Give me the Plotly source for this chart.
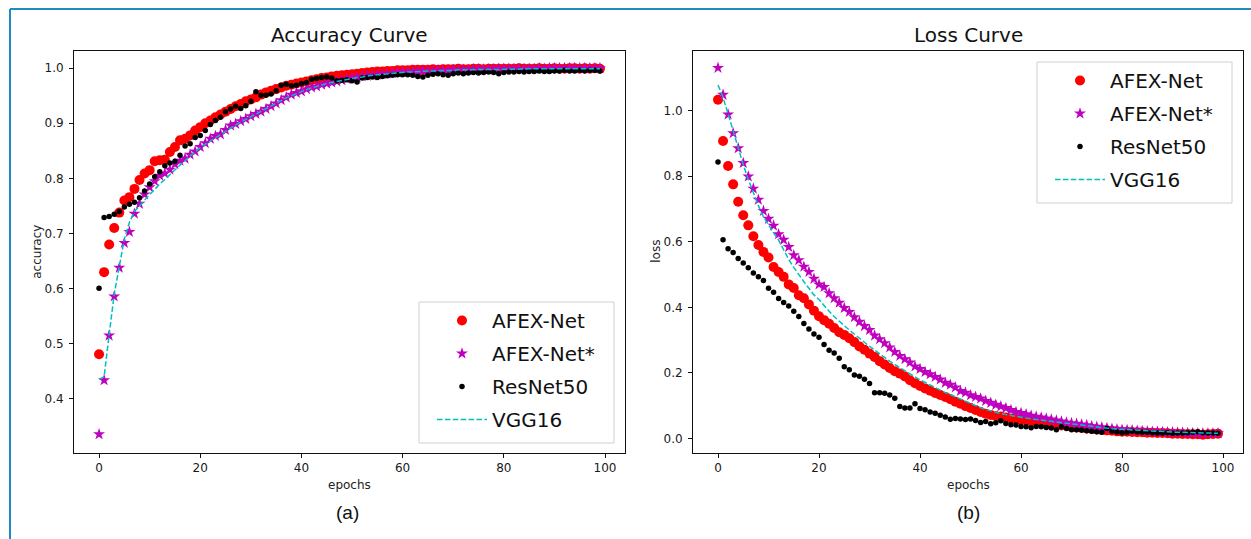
import plotly.graph_objects as go

# ---------------- data ----------------
epochs = list(range(100))
series_names = ["AFEX-Net", "AFEX-Net*", "ResNet50", "VGG16"]
x_ticks = [0, 20, 40, 60, 80, 100]
acc_ticks = [0.4, 0.5, 0.6, 0.7, 0.8, 0.9, 1.0]
loss_ticks = [0.0, 0.2, 0.4, 0.6, 0.8, 1.0]

acc_afex = [0.481, 0.630, 0.680, 0.710, 0.738, 0.760, 0.766, 0.781, 0.797, 0.809,
            0.815, 0.831, 0.833, 0.834, 0.848, 0.857, 0.869, 0.872, 0.878, 0.887,
            0.893, 0.900, 0.905, 0.911, 0.916, 0.921, 0.926, 0.931, 0.935, 0.940,
            0.943, 0.947, 0.952, 0.956, 0.959, 0.962, 0.965, 0.968, 0.970, 0.972,
            0.974, 0.976, 0.978, 0.980, 0.982, 0.983, 0.985, 0.986, 0.987, 0.988,
            0.989, 0.990, 0.991, 0.992, 0.993, 0.994, 0.994, 0.995, 0.995, 0.996,
            0.996, 0.996, 0.997, 0.997, 0.997, 0.997, 0.998, 0.997, 0.998, 0.998,
            0.998, 0.999, 0.998, 0.998, 0.999, 0.999, 0.998, 0.999, 0.999, 0.999,
            0.999, 0.999, 0.999, 1.000, 0.999, 0.999, 0.999, 1.000, 0.999, 0.999,
            1.000, 0.999, 0.999, 1.000, 1.000, 0.999, 1.000, 0.999, 1.000, 0.999]

acc_afex_star = [0.336, 0.434, 0.515, 0.586, 0.638, 0.683, 0.703, 0.736, 0.754, 0.771,
                 0.784, 0.795, 0.805, 0.809, 0.816, 0.826, 0.832, 0.836, 0.843, 0.849,
                 0.857, 0.864, 0.872, 0.877, 0.880, 0.888, 0.896, 0.899, 0.904, 0.908,
                 0.913, 0.917, 0.921, 0.926, 0.931, 0.936, 0.942, 0.947, 0.952, 0.955,
                 0.958, 0.962, 0.965, 0.967, 0.970, 0.972, 0.974, 0.976, 0.978, 0.980,
                 0.982, 0.983, 0.985, 0.986, 0.987, 0.988, 0.989, 0.990, 0.991, 0.992,
                 0.993, 0.993, 0.994, 0.994, 0.995, 0.995, 0.995, 0.996, 0.996, 0.996,
                 0.997, 0.997, 0.997, 0.997, 0.998, 0.998, 0.998, 0.998, 0.998, 0.999,
                 0.999, 0.999, 0.999, 0.999, 0.999, 0.999, 0.999, 1.000, 0.999, 1.000,
                 1.000, 1.000, 1.000, 1.000, 1.000, 1.000, 1.000, 1.000, 1.000, 1.000]

acc_resnet = [0.601, 0.729, 0.731, 0.735, 0.740, 0.748, 0.753, 0.757, 0.765, 0.777,
              0.790, 0.803, 0.812, 0.823, 0.828, 0.831, 0.842, 0.859, 0.863, 0.874,
              0.878, 0.887, 0.898, 0.905, 0.911, 0.921, 0.926, 0.931, 0.927, 0.932,
              0.940, 0.957, 0.951, 0.951, 0.953, 0.959, 0.969, 0.971, 0.968, 0.969,
              0.972, 0.974, 0.980, 0.981, 0.983, 0.984, 0.982, 0.977, 0.978, 0.979,
              0.977, 0.975, 0.982, 0.983, 0.984, 0.983, 0.985, 0.986, 0.987, 0.988,
              0.988, 0.988, 0.987, 0.985, 0.984, 0.987, 0.989, 0.990, 0.988, 0.987,
              0.990, 0.991, 0.990, 0.991, 0.992, 0.991, 0.992, 0.993, 0.992, 0.990,
              0.992, 0.993, 0.993, 0.994, 0.993, 0.994, 0.994, 0.995, 0.994, 0.994,
              0.995, 0.995, 0.996, 0.995, 0.995, 0.996, 0.995, 0.996, 0.996, 0.995]

acc_vgg = [0.436, 0.440, 0.517, 0.590, 0.640, 0.690, 0.720, 0.740, 0.750, 0.761,
           0.771, 0.780, 0.790, 0.798, 0.807, 0.815, 0.824, 0.832, 0.841, 0.848,
           0.856, 0.862, 0.868, 0.874, 0.880, 0.886, 0.892, 0.897, 0.902, 0.907,
           0.912, 0.917, 0.921, 0.926, 0.931, 0.936, 0.941, 0.946, 0.950, 0.954,
           0.958, 0.961, 0.964, 0.967, 0.970, 0.972, 0.974, 0.976, 0.978, 0.980,
           0.982, 0.983, 0.984, 0.986, 0.987, 0.988, 0.989, 0.990, 0.991, 0.991,
           0.992, 0.993, 0.993, 0.994, 0.994, 0.995, 0.995, 0.995, 0.996, 0.996,
           0.996, 0.997, 0.997, 0.997, 0.997, 0.997, 0.998, 0.998, 0.998, 0.998,
           0.998, 0.998, 0.998, 0.998, 0.999, 0.999, 0.999, 0.999, 0.999, 0.999,
           0.999, 0.999, 0.999, 0.999, 0.999, 0.999, 0.999, 0.999, 0.999, 0.999]

loss_afex = [1.033, 0.907, 0.831, 0.775, 0.722, 0.681, 0.650, 0.617, 0.590, 0.569,
             0.552, 0.523, 0.508, 0.493, 0.470, 0.459, 0.437, 0.428, 0.409, 0.390,
             0.373, 0.361, 0.350, 0.337, 0.324, 0.316, 0.306, 0.294, 0.281, 0.271,
             0.259, 0.249, 0.236, 0.226, 0.215, 0.205, 0.198, 0.189, 0.178, 0.169,
             0.160, 0.153, 0.146, 0.139, 0.133, 0.127, 0.120, 0.112, 0.106, 0.099,
             0.093, 0.087, 0.081, 0.076, 0.072, 0.069, 0.067, 0.064, 0.061, 0.059,
             0.057, 0.055, 0.053, 0.051, 0.048, 0.046, 0.044, 0.042, 0.040, 0.039,
             0.036, 0.034, 0.032, 0.031, 0.029, 0.028, 0.026, 0.025, 0.024, 0.022,
             0.021, 0.021, 0.020, 0.019, 0.019, 0.018, 0.018, 0.017, 0.017, 0.016,
             0.015, 0.015, 0.014, 0.014, 0.013, 0.013, 0.012, 0.013, 0.014, 0.015]

loss_afex_star = [1.130, 1.048, 0.988, 0.931, 0.885, 0.840, 0.799, 0.762, 0.728, 0.694,
                  0.670, 0.649, 0.623, 0.606, 0.584, 0.559, 0.544, 0.524, 0.508, 0.487,
                  0.470, 0.462, 0.443, 0.428, 0.414, 0.398, 0.386, 0.370, 0.356, 0.343,
                  0.331, 0.314, 0.303, 0.291, 0.278, 0.264, 0.252, 0.242, 0.232, 0.220,
                  0.212, 0.203, 0.196, 0.188, 0.180, 0.170, 0.164, 0.156, 0.145, 0.140,
                  0.132, 0.127, 0.122, 0.115, 0.109, 0.103, 0.098, 0.093, 0.087, 0.081,
                  0.078, 0.074, 0.070, 0.067, 0.064, 0.061, 0.058, 0.055, 0.052, 0.049,
                  0.047, 0.045, 0.043, 0.041, 0.038, 0.036, 0.034, 0.032, 0.030, 0.028,
                  0.027, 0.026, 0.025, 0.024, 0.023, 0.022, 0.021, 0.021, 0.020, 0.019,
                  0.019, 0.018, 0.018, 0.017, 0.017, 0.016, 0.016, 0.016, 0.016, 0.016]

loss_resnet = [0.843, 0.606, 0.579, 0.567, 0.549, 0.535, 0.521, 0.505, 0.493, 0.482,
               0.458, 0.446, 0.427, 0.415, 0.404, 0.388, 0.372, 0.351, 0.334, 0.319,
               0.309, 0.287, 0.269, 0.261, 0.245, 0.219, 0.210, 0.194, 0.190, 0.181,
               0.168, 0.140, 0.140, 0.138, 0.133, 0.123, 0.098, 0.093, 0.093, 0.106,
               0.092, 0.088, 0.081, 0.077, 0.071, 0.066, 0.059, 0.061, 0.060, 0.058,
               0.060, 0.055, 0.049, 0.052, 0.045, 0.048, 0.054, 0.046, 0.042, 0.041,
               0.037, 0.036, 0.033, 0.037, 0.036, 0.034, 0.032, 0.027, 0.036, 0.031,
               0.027, 0.027, 0.026, 0.024, 0.022, 0.021, 0.019, 0.031, 0.022, 0.020,
               0.018, 0.019, 0.022, 0.020, 0.019, 0.019, 0.018, 0.017, 0.017, 0.018,
               0.016, 0.017, 0.017, 0.018, 0.019, 0.021, 0.018, 0.017, 0.017, 0.016]

loss_vgg = [1.078, 1.040, 0.990, 0.938, 0.885, 0.835, 0.790, 0.748, 0.710, 0.676,
            0.650, 0.627, 0.605, 0.574, 0.546, 0.522, 0.498, 0.478, 0.458, 0.438,
            0.424, 0.405, 0.388, 0.372, 0.357, 0.344, 0.331, 0.318, 0.305, 0.292,
            0.281, 0.270, 0.258, 0.247, 0.236, 0.226, 0.216, 0.206, 0.197, 0.188,
            0.179, 0.171, 0.163, 0.155, 0.147, 0.140, 0.134, 0.127, 0.120, 0.113,
            0.107, 0.100, 0.094, 0.089, 0.084, 0.080, 0.076, 0.073, 0.070, 0.067,
            0.064, 0.062, 0.060, 0.058, 0.056, 0.054, 0.052, 0.050, 0.048, 0.046,
            0.044, 0.042, 0.040, 0.038, 0.036, 0.035, 0.033, 0.032, 0.030, 0.029,
            0.028, 0.027, 0.026, 0.025, 0.024, 0.023, 0.022, 0.021, 0.021, 0.020,
            0.020, 0.019, 0.019, 0.018, 0.018, 0.017, 0.017, 0.017, 0.016, 0.016]

# ---------------- styling ----------------
W, H = 1251, 539
RED, MAG, BLK, CYN = "#ff0000", "#bf00bf", "#000000", "#00bfbf"
FONT = "DejaVu Sans"


def px_x(p):
    return p / W


def px_y(p):
    return (H - p) / H


styles = {
    "AFEX-Net": dict(mode="markers", marker=dict(symbol="circle", size=10, color=RED)),
    "AFEX-Net*": dict(mode="markers", marker=dict(symbol="star", size=9, color=MAG, line=dict(width=0))),
    "ResNet50": dict(mode="markers", marker=dict(symbol="circle", size=5.5, color=BLK)),
    "VGG16": dict(mode="lines", line=dict(color=CYN, width=1.5, dash="5.5px,2.4px")),
}

acc_data = {"AFEX-Net": acc_afex, "AFEX-Net*": acc_afex_star, "ResNet50": acc_resnet, "VGG16": acc_vgg}
loss_data = {"AFEX-Net": loss_afex, "AFEX-Net*": loss_afex_star, "ResNet50": loss_resnet, "VGG16": loss_vgg}

fig = go.Figure()
for name in series_names:
    fig.add_trace(go.Scatter(x=epochs, y=acc_data[name], name=name, xaxis="x", yaxis="y",
                             legend="legend", legendgroup="a" + name, **styles[name]))
for name in series_names:
    fig.add_trace(go.Scatter(x=epochs, y=loss_data[name], name=name, xaxis="x2", yaxis="y2",
                             legend="legend2", legendgroup="b" + name, **styles[name]))

axis_common = dict(showline=True, mirror=True, linecolor="#111", linewidth=1,
                   ticks="outside", ticklen=4, tickwidth=1, tickcolor="#111",
                   showgrid=False, zeroline=False,
                   tickfont=dict(family=FONT, size=12, color="#1a1a1a"))

L_dom = [px_x(74), px_x(625)]
R_dom = [px_x(693), px_x(1243)]
Y_dom = [px_y(453), px_y(50.5)]

legend_common = dict(font=dict(family=FONT, size=20, color="#111"),
                     bgcolor="rgba(0,0,0,0)", borderwidth=0,
                     xanchor="left", yanchor="top", itemwidth=50,
                     tracegroupgap=4, traceorder="grouped")

fig.update_layout(
    width=W, height=H,
    margin=dict(l=0, r=0, t=0, b=0),
    paper_bgcolor="white", plot_bgcolor="white",
    showlegend=True,
    xaxis=dict(domain=L_dom, anchor="y", range=[-4.95, 103.95], tickvals=x_ticks, **axis_common),
    yaxis=dict(domain=Y_dom, anchor="x", range=[0.302, 1.032], tickvals=acc_ticks,
               tickformat=".1f", ticklabelstandoff=3, **axis_common),
    xaxis2=dict(domain=R_dom, anchor="y2", range=[-4.95, 103.95], tickvals=x_ticks, **axis_common),
    yaxis2=dict(domain=Y_dom, anchor="x2", range=[-0.044, 1.183], tickvals=loss_ticks,
                tickformat=".1f", ticklabelstandoff=3, **axis_common),
    legend=dict(x=px_x(432), y=px_y(301), **legend_common),
    legend2=dict(x=px_x(1050), y=px_y(61), **legend_common),
)

# legend frames (matplotlib style)
for (x0, y0, x1, y1) in [(419, 302, 614, 443), (1037, 62, 1232, 203)]:
    fig.add_shape(type="rect", xref="paper", yref="paper",
                  x0=px_x(x0), x1=px_x(x1), y0=px_y(y1), y1=px_y(y0),
                  line=dict(color="#d0d0d0", width=1), fillcolor="rgba(255,255,255,0.8)",
                  layer="above")

# outer blue border (open at right/bottom as in the reference crop)
BLUE = "#1e8bc3"
fig.add_shape(type="line", xref="paper", yref="paper", x0=px_x(10), x1=px_x(10),
              y0=0, y1=px_y(9), line=dict(color=BLUE, width=2))
fig.add_shape(type="line", xref="paper", yref="paper", x0=px_x(10), x1=1,
              y0=px_y(9), y1=px_y(9), line=dict(color=BLUE, width=2))

ann = []
# titles
ann.append(dict(text="Accuracy Curve", x=(L_dom[0] + L_dom[1]) / 2, y=px_y(35.5),
                font=dict(family=FONT, size=20, color="#111")))
ann.append(dict(text="Loss Curve", x=(R_dom[0] + R_dom[1]) / 2, y=px_y(35.5),
                font=dict(family=FONT, size=20, color="#111")))
# axis titles
ann.append(dict(text="epochs", x=(L_dom[0] + L_dom[1]) / 2, y=px_y(485),
                font=dict(family=FONT, size=12, color="#222")))
ann.append(dict(text="epochs", x=(R_dom[0] + R_dom[1]) / 2, y=px_y(485),
                font=dict(family=FONT, size=12, color="#222")))
ann.append(dict(text="accuracy", x=px_x(37), y=(Y_dom[0] + Y_dom[1]) / 2, textangle=-90,
                font=dict(family=FONT, size=12, color="#222")))
ann.append(dict(text="loss", x=px_x(656), y=(Y_dom[0] + Y_dom[1]) / 2, textangle=-90,
                font=dict(family=FONT, size=12, color="#222")))
# panel labels
ann.append(dict(text="(a)", x=px_x(347), y=px_y(512),
                font=dict(family="Liberation Sans, Arial", size=19, color="#111")))
ann.append(dict(text="(b)", x=px_x(968), y=px_y(512),
                font=dict(family="Liberation Sans, Arial", size=19, color="#111")))

for a in ann:
    a.update(xref="paper", yref="paper", showarrow=False, xanchor="center", yanchor="middle")
fig.update_layout(annotations=ann)

fig.write_html("out.html", config={"displayModeBar": False},
               post_script="document.body.style.margin='0';document.body.style.overflow='hidden';")
